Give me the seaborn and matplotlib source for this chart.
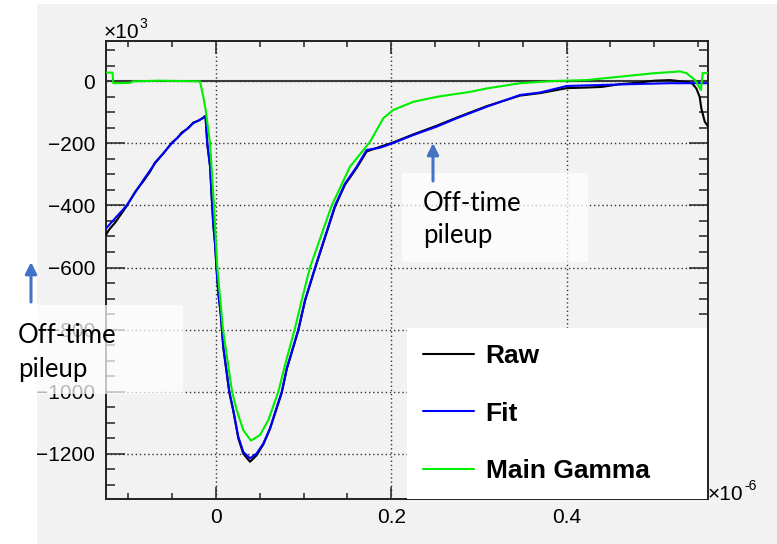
import numpy as np
import pandas as pd
import matplotlib
matplotlib.use("Agg")
import matplotlib.pyplot as plt
import seaborn as sns
from matplotlib.patches import Rectangle, FancyArrowPatch
from matplotlib.ticker import MultipleLocator, FixedLocator, FuncFormatter

# ---------------- data (time in 1e-6 s, amplitude in 1e3) ----------------
fit_t = [-0.1255, -0.1019, -0.0829, -0.0696, -0.0505, -0.0391, -0.0259, -0.0120,
         -0.0099, -0.0068, -0.0049, -0.0031, -0.0011, 0.0008, 0.0026, 0.0054,
         0.0083, 0.0152, 0.0197, 0.0254, 0.0311, 0.0388, 0.0464, 0.0540, 0.0616,
         0.0750, 0.0807, 0.0939, 0.1015, 0.1130, 0.1358, 0.1472, 0.1605, 0.1719,
         0.1871, 0.2011, 0.2251, 0.2518, 0.2746, 0.3088, 0.3468, 0.3697, 0.4001,
         0.4609, 0.5180, 0.5613]
fit_v = [-474, -400, -318, -264, -200, -168, -135, -114,
         -200, -275, -372, -463, -522, -608, -683, -748,
         -855, -1000, -1059, -1145, -1194, -1215, -1199, -1167, -1118,
         -1000, -925, -800, -705, -600, -400, -329, -275, -221,
         -214, -200, -173, -146, -119, -82, -44, -36, -15,
         -10, -6, -6]

raw_t = [-0.1255, -0.1220, -0.1150, -0.1019, -0.0920, -0.0829, -0.0750, -0.0696,
         -0.0600, -0.0505, -0.0440, -0.0391, -0.0320, -0.0259, -0.0200, -0.0150,
         -0.0120, -0.0099, -0.0068, -0.0049, -0.0031, -0.0011, 0.0008, 0.0026,
         0.0054, 0.0083, 0.0152, 0.0197, 0.0254, 0.0311, 0.0388, 0.0464, 0.0540,
         0.0616, 0.0750, 0.0807, 0.0939, 0.1015, 0.1130, 0.1358, 0.1472, 0.1605,
         0.1719, 0.1871, 0.2011, 0.2251, 0.2518, 0.2746, 0.3088, 0.3468, 0.3697,
         0.4001, 0.4229, 0.4400, 0.4609, 0.4800, 0.5000, 0.5180, 0.5370, 0.5430,
         0.5480, 0.5518, 0.5537, 0.5576, 0.5613]
raw_v = [-495, -478, -455, -402, -355, -322, -290, -262,
         -232, -198, -182, -165, -152, -133, -127, -118,
         -111, -205, -272, -375, -460, -525, -612, -680,
         -752, -858, -1003, -1062, -1150, -1200, -1226, -1205, -1170,
         -1120, -1004, -928, -803, -708, -603, -404, -333, -279,
         -226, -211, -198, -171, -143, -117, -80, -46, -38,
         -22, -20, -18, -9, -5, 2, 4, -2, -6,
         -23, -50, -87, -130, -145]

gamma_t = [-0.1255, -0.1181, -0.1172, -0.0981, -0.0947, -0.0639, -0.0411, -0.0183,
           -0.0145, -0.0118, -0.0088, -0.0068, -0.0023, 0.0015, 0.0080, 0.0183,
           0.0236, 0.0311, 0.0399, 0.0502, 0.0597, 0.0711, 0.0807, 0.0901, 0.0978,
           0.1072, 0.1320, 0.1529, 0.1757, 0.1909, 0.2023, 0.2251, 0.2518, 0.2898,
           0.3088, 0.3468, 0.3848, 0.4229, 0.4609, 0.4989, 0.5294, 0.5370, 0.5465,
           0.5533, 0.5553, 0.5613]
gamma_v = [28, 28, -6, -5, 0, 2, 1, 0,
           -50, -92, -157, -200, -400, -600, -800, -1000,
           -1059, -1124, -1158, -1140, -1092, -1000, -893, -796, -705,
           -600, -400, -275, -195, -119, -92, -66, -50, -34,
           -23, -6, 1, 4, 15, 26, 32, 26, 4,
           -28, 27, 27]

series_names = ["Raw", "Fit", "Main Gamma"]
series_colors = ["#000000", "#0000ff", "#00ee00"]
x_ticks = [0.0, 0.2, 0.4]
annotation_lines = ["Off-time", "pileup"]

# ---------------- styling ----------------
W, H = 777, 544
sns.set_style("ticks")
plt.rcParams["font.family"] = ["Liberation Sans", "DejaVu Sans"]
plt.rcParams["axes.unicode_minus"] = True
plt.rcParams["text.color"] = "black"

fig = plt.figure(figsize=(W / 100, H / 100), dpi=100, facecolor="white")


def fx(px):
    return px / W


def fy(py):
    return 1 - py / H


# grey canvas panel
fig.add_artist(Rectangle((fx(37), 0), 1 - fx(37), fy(4), transform=fig.transFigure,
                         facecolor="#f2f2f2", edgecolor="none", zorder=-10))

ax = fig.add_axes([fx(106), fy(499), (708 - 106) / W, (499 - 41) / H])
ax.set_facecolor("#f2f2f2")

frames = [
    pd.DataFrame({"t": raw_t, "v": raw_v, "series": series_names[0]}),
    pd.DataFrame({"t": fit_t, "v": fit_v, "series": series_names[1]}),
    pd.DataFrame({"t": gamma_t, "v": gamma_v, "series": series_names[2]}),
]
for df, name, col in zip(frames, series_names, series_colors):
    sns.lineplot(data=df, x="t", y="v", ax=ax, color=col, lw=1.5,
                 estimator=None, label=name, zorder=3)

ax.axhline(0, color="#3a3a3a", lw=1.5, zorder=2)

ax.set_xlim(-0.1255, 0.5613)
ax.set_ylim(-1346, 130)
ax.set_xlabel("")
ax.set_ylabel("")

ax.xaxis.set_major_locator(FixedLocator(x_ticks))
ax.xaxis.set_minor_locator(MultipleLocator(0.05))
ax.yaxis.set_major_locator(MultipleLocator(200))
ax.yaxis.set_minor_locator(MultipleLocator(50))
fmt = FuncFormatter(lambda v, p: f"{v:g}".replace("-", "\u2212"))
ax.xaxis.set_major_formatter(fmt)
ax.yaxis.set_major_formatter(fmt)

ax.grid(True, which="major", linestyle=(0, (1, 2)), color="#333333", lw=1.0, zorder=1)
ax.set_axisbelow(True)

ax.tick_params(which="both", direction="in", top=True, right=True,
               labelsize=15, color="#222222", labelcolor="black", width=1.1)
ax.tick_params(axis="x", which="major", length=9, pad=6.5)
ax.tick_params(axis="x", which="minor", length=4.3)
ax.tick_params(axis="y", which="major", length=13.7, pad=8)
ax.tick_params(axis="y", which="minor", length=6.8)
for s in ax.spines.values():
    s.set_linewidth(1.4)
    s.set_color("#222222")

handles, labels = ax.get_legend_handles_labels()
leg = ax.legend(handles, labels, loc="lower left",
                bbox_to_anchor=(0.5, 0.0, 0.4985, 0.3755), mode="expand",
                borderaxespad=0, frameon=True, fancybox=False, framealpha=1,
                prop={"family": "Liberation Sans", "weight": "bold", "size": 19},
                handlelength=1.93, handletextpad=0.45, labelspacing=1.27,
                borderpad=0.6, labelcolor="black")
leg.get_frame().set_facecolor("white")
leg.get_frame().set_edgecolor("none")
leg.set_zorder(6)

# exponent labels
fig.text(fx(104), fy(38), "\u00d710", fontsize=15, va="baseline", ha="left")
fig.text(fx(139.5), fy(28), "3", fontsize=10, va="baseline", ha="left")
fig.text(fx(708), fy(500), "\u00d710", fontsize=15, va="baseline", ha="left")
fig.text(fx(744), fy(490), "-6", fontsize=10, va="baseline", ha="left")

# annotation boxes
for (x0, y0, x1, y1) in [(37, 305, 183, 394), (402, 173, 588, 262)]:
    fig.add_artist(Rectangle((fx(x0), fy(y1)), fx(x1) - fx(x0), fy(y0) - fy(y1),
                             transform=fig.transFigure, facecolor="white",
                             alpha=0.72, edgecolor="none", zorder=10))

for (tx, b1, b2) in [(18, 343, 377), (423, 211, 243)]:
    fig.text(fx(tx), fy(b1), annotation_lines[0], fontsize=18.5, family="Lato",
             va="baseline", ha="left", zorder=11, color="black")
    fig.text(fx(tx), fy(b2), annotation_lines[1], fontsize=18.5, family="Lato",
             va="baseline", ha="left", zorder=11, color="black")

for (axp, tail, tip) in [(31, 302, 262), (433, 181, 143)]:
    fig.add_artist(FancyArrowPatch((fx(axp), fy(tail)), (fx(axp), fy(tip)),
                                   transform=fig.transFigure, arrowstyle="-|>",
                                   mutation_scale=17, lw=2.2, color="#4472c4",
                                   shrinkA=0, shrinkB=0, zorder=12))

fig.savefig("out.png", dpi=100, facecolor="white")
